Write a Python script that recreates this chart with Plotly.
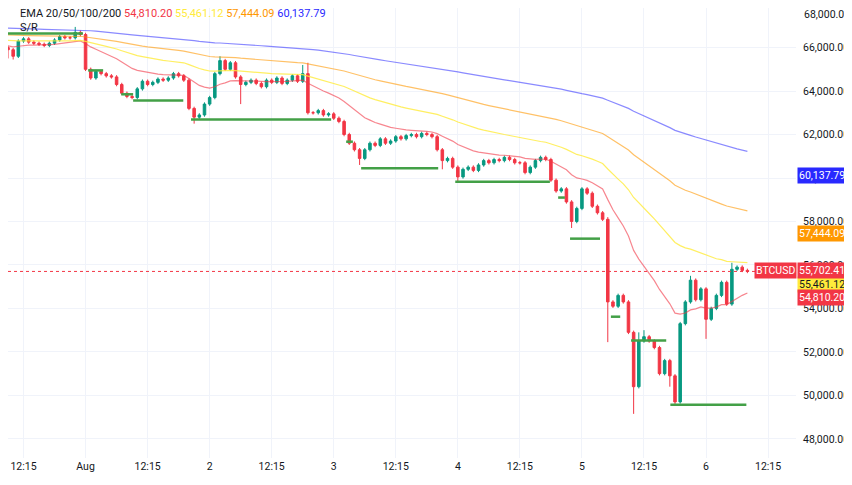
import numpy as np
import pandas as pd
import plotly.graph_objects as go

# hourly closes, Jul 31 09:00 -> Aug 6 08:00
closes = [65900,65600,66300,66400,66250,66200,66150,66100,66200,66350,66500,66450,66450,66700,66600,
          65000,64600,64900,64800,64700,64650,64300,63900,63750,63700,64100,64450,64300,64400,64550,
          64500,64600,64800,64700,64500,63200,62800,62900,63400,63700,64800,65400,65000,65300,64650,
          64300,64400,64500,64350,64200,64500,64400,64600,64350,64500,64700,64450,64800,63000,63000,
          63100,62900,62950,62750,62600,62000,61600,61300,60900,61300,61600,61500,61800,61600,61700,
          61900,61800,61950,62000,61900,62050,62000,61900,61300,60800,60900,60500,60050,60400,60500,
          60350,60600,60800,60700,60850,60800,60950,60850,60700,60700,60250,60500,60800,60950,60850,
          59900,59400,59500,58900,58000,58600,59500,59300,58700,58400,58100,54300,54100,54600,54300,
          52900,50400,52500,52700,52500,52200,51000,51600,50900,49700,53300,54300,55300,54400,54900,
          53500,54000,54600,55200,54200,55800,55900,55750,55702.41]
first_open = 66000
high_marks = {13: 66950, 58: 65300, 41: 65600, 57: 65200, 116: 58200, 132: 55500, 140: 56100, 122: 52900, 123: 53000}
low_marks = {36: 62500, 45: 63400, 68: 60600, 87: 59800, 109: 57700, 116: 52450, 121: 49150, 128: 50400,
             129: 49600, 135: 52600, 84: 60400, 0: 65500, 1: 65450}

ema_periods = [20, 50, 100, 200]
ema_seeds = [66100, 66350, 66600, 66900]
ema_colors = ["rgba(242,54,69,0.6)", "rgba(255,235,59,0.8)", "rgba(255,152,0,0.6)", "rgba(41,41,255,0.55)"]
ema_labels = ["54,810.20", "55,461.12", "57,444.09", "60,137.79"]
label_colors = ["#f23645", "#ffeb3b", "#ff9800", "#2929ff"]

sr_levels = [
    ("2024-07-31 08:36", "2024-07-31 23:30", 66650),
    ("2024-08-01 00:30", "2024-08-01 03:24", 64950),
    ("2024-08-01 06:54", "2024-08-01 09:12", 63850),
    ("2024-08-01 09:12", "2024-08-01 18:54", 63560),
    ("2024-08-01 20:24", "2024-08-02 23:30", 62690),
    ("2024-08-03 02:24", "2024-08-03 03:42", 61670),
    ("2024-08-03 05:18", "2024-08-03 20:12", 60450),
    ("2024-08-03 23:30", "2024-08-04 17:48", 59830),
    ("2024-08-04 19:24", "2024-08-04 20:42", 59100),
    ("2024-08-04 21:42", "2024-08-05 03:30", 57210),
    ("2024-08-05 05:36", "2024-08-05 07:24", 53620),
    ("2024-08-05 09:30", "2024-08-05 16:18", 52520),
    ("2024-08-05 17:06", "2024-08-06 07:48", 49570),
]

tick_vals = ["2024-07-31 12:00", "2024-08-01", "2024-08-01 12:00", "2024-08-02", "2024-08-02 12:00",
             "2024-08-03", "2024-08-03 12:00", "2024-08-04", "2024-08-04 12:00", "2024-08-05",
             "2024-08-05 12:00", "2024-08-06", "2024-08-06 12:00"]
tick_text = ["12:15", "Aug", "12:15", "2", "12:15", "3", "12:15", "4", "12:15", "5", "12:15", "6", "12:15"]
y_ticks = [48000, 50000, 52000, 54000, 56000, 58000, 60000, 62000, 64000, 66000]
top_tick = 68000
y_range = [47120, 67820]
last_price = 55702.41

times = pd.date_range("2024-07-31 09:00", periods=len(closes), freq="h")
c = np.array(closes, dtype=float)
o = np.concatenate([[first_open], c[:-1]])
wick = 80
h = np.maximum(o, c) + wick
l = np.minimum(o, c) - wick
for k, v in high_marks.items():
    h[k] = max(h[k], v)
for k, v in low_marks.items():
    l[k] = min(l[k], v)

fig = go.Figure()
for p, seed, col in zip(ema_periods, ema_seeds, ema_colors):
    a = 2 / (p + 1)
    e = []
    prev = seed
    for v in c:
        prev = prev + a * (v - prev)
        e.append(prev)
    fig.add_trace(go.Scatter(x=times, y=e, mode="lines", line=dict(color=col, width=1.2), hoverinfo="skip"))

fig.add_trace(go.Candlestick(x=times, open=o, high=h, low=l, close=c,
                             increasing=dict(line=dict(color="#089981", width=1), fillcolor="#089981"),
                             decreasing=dict(line=dict(color="#f23645", width=1), fillcolor="#f23645"),
                             whiskerwidth=0))
for s, e_, lv in sr_levels:
    fig.add_trace(go.Scatter(x=[s, e_], y=[lv, lv], mode="lines", line=dict(color="#43a047", width=2.5),
                             hoverinfo="skip"))

fig.add_hline(y=last_price, line=dict(color="#f23645", width=1, dash="dot"))

fig.update_layout(
    width=852, height=485, margin=dict(l=0, r=64, t=0, b=35),
    paper_bgcolor="white", plot_bgcolor="white", showlegend=False,
    font=dict(family="Roboto, Arial", size=10.5, color="#131722"),
    xaxis=dict(type="date", range=["2024-07-31 09:00", "2024-08-06 17:24"], tickvals=tick_vals,
               ticktext=tick_text, showgrid=True, gridcolor="#f0f3fa", rangeslider=dict(visible=False),
               showline=False, zeroline=False, ticks=""),
    yaxis=dict(side="right", range=y_range, tickvals=y_ticks, tickformat=",.2f",
               showgrid=True, gridcolor="#f0f3fa", zeroline=False, ticks="", ticklabelstandoff=6),
)

fig.add_annotation(xref="paper", yref="paper", x=1.0, y=1.0, xanchor="left", yanchor="top",
                   text=f"{top_tick:,.2f}", showarrow=False, xshift=6, yshift=2,
                   font=dict(size=10.5, color="#131722"))

legend = ("EMA 20/50/100/200 " + " ".join(
    f"<span style='color:{lc}'>{t}</span>" for lc, t in zip(label_colors, ema_labels)))
fig.add_annotation(xref="paper", yref="paper", x=0.0, y=1.0, xanchor="left", yanchor="top",
                   text=legend, showarrow=False, xshift=10, yshift=3, font=dict(size=11, color="#131722"))
fig.add_annotation(xref="paper", yref="paper", x=0.0, y=1.0, xanchor="left", yanchor="top",
                   text="S/R", showarrow=False, xshift=10, yshift=-11, font=dict(size=11, color="#131722"))

# price boxes on the right axis (label anchor positions nudged apart as in the reference)
boxes = [(60137.79, "60,137.79", "#2929ff", "white"),
         (57444.09, "57,444.09", "#ff9800", "white"),
         (55100, "55,461.12", "#ffeb3b", "#131722"),
         (54500, "54,810.20", "#f23645", "white"),
         (55750, "55,702.41", "#f23645", "white")]
for yy, t, bg, fc in boxes:
    fig.add_annotation(xref="paper", yref="y", x=1.0, y=yy, xanchor="left", yanchor="middle", text=t,
                       showarrow=False, bgcolor=bg, font=dict(color=fc, size=10.5), borderpad=1, xshift=1)
fig.add_annotation(xref="paper", yref="y", x=1.0, y=55750, xanchor="right", yanchor="middle", text="BTCUSD",
                   showarrow=False, bgcolor="#f23645", font=dict(color="white", size=10.5), borderpad=1, xshift=1)

fig.write_html("out.html")
